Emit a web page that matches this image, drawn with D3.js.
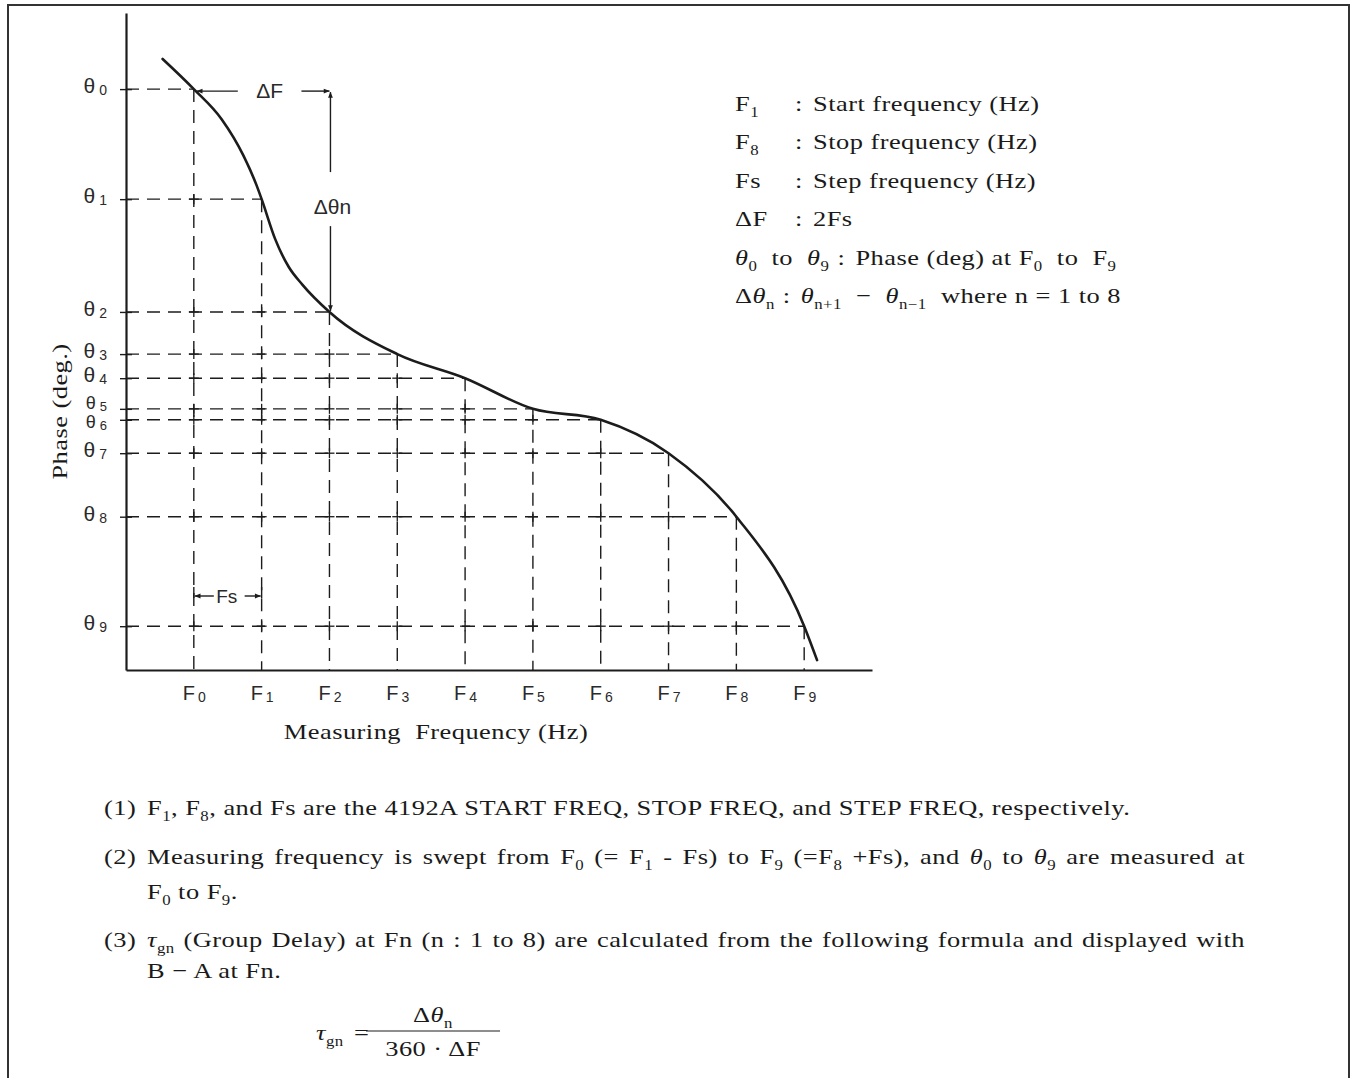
<!DOCTYPE html>
<html>
<head>
<meta charset="utf-8">
<script src="https://cdn.jsdelivr.net/npm/d3@7"></script>
<style>
  html, body { margin: 0; padding: 0; background: #fff; }
  svg { display: block; }
  .serif { font-family: "Liberation Serif", "DejaVu Serif", serif; fill: #1a1a1a; letter-spacing: 0.4px; }
  .plot { font-family: "Liberation Sans", "DejaVu Sans", sans-serif; fill: #2a2a2a; }
</style>
</head>
<body>
<svg id="chart" width="1354" height="1078"></svg>
<script>
// ---------------- DATA ----------------
const freqSteps   = [0, 1, 2, 3, 4, 5, 6, 7, 8, 9];          // F0 .. F9 (step index)
const freqSubs    = ["0","1","2","3","4","5","6","7","8","9"]; // tick label subscripts
const phaseAtF    = [-13.9, -34.0, -54.6, -62.3, -66.7, -72.3, -74.3, -80.4, -92.0, -112.0]; // θ0..θ9 (deg, schematic)
const curveStart  = [-0.46, -8.4];   // curve begins before F0
const curveEnd    = [9.19, -118.2];  // curve ends after F9
// extra points read off the drawn curve between F0 and F2
const curveMidF   = [0.41, 0.73, 0.92, 1.2, 1.4, 1.6];
const curveMidP   = [-19.4, -26.0, -31.3, -41.3, -46.4, -49.6];
const freqDomain  = [-1, 10];
const phaseDomain = [0, -120];

const yTitle = "Phase (deg.)";
const xTitle = "Measuring  Frequency (Hz)";

// legend rows: [segments of key, segments of value]; segment = [text, style]
const legendRows = [
  [[["F"],["1","sub"]], [["Start frequency (Hz)"]]],
  [[["F"],["8","sub"]], [["Stop frequency (Hz)"]]],
  [[["Fs"]], [["Step frequency (Hz)"]]],
  [[["ΔF"]], [["2Fs"]]],
  [[["θ","it"],["0","sub"],["  to  "],["θ","it"],["9","sub"]], [["Phase (deg) at F"],["0","sub"],["  to  F"],["9","sub"]]],
  [[["Δ"],["θ","it"],["n","sub"]], [["θ","it"],["n+1","sub"],["  −  "],["θ","it"],["n−1","sub"],["  where n = 1 to 8"]]]
];

const notes = [
  ["(1)", [
    [["F"],["1","sub"],[", F"],["8","sub"],[", and Fs are the 4192A START FREQ, STOP FREQ, and STEP FREQ, respectively."]]
  ]],
  ["(2)", [
    [["Measuring frequency is swept from F"],["0","sub"],[" (= F"],["1","sub"],[" - Fs) to F"],["9","sub"],[" (=F"],["8","sub"],[" +Fs), and "],["θ","it"],["0","sub"],[" to "],["θ","it"],["9","sub"],[" are measured at"]],
    [["F"],["0","sub"],[" to F"],["9","sub"],["."]]
  ]],
  ["(3)", [
    [["τ","it"],["gn","sub"],[" (Group Delay) at Fn (n : 1 to 8) are calculated from the following formula and displayed with"]],
    [["B − A at Fn."]]
  ]]
];

const formulaLeft = [["τ","it"],["gn","sub"]];
const formulaNum  = [["Δ"],["θ","it"],["n","sub"]];
const formulaDen  = [["360 · ΔF"]];

// ---------------- LAYOUT ----------------
const svg = d3.select("#chart");
const ink = "#1c1c1c";
const FS = 22, SUB = 14, SX = 1.2;   // serif text size and horizontal stretch

const x = d3.scaleLinear().domain(freqDomain).range([126, 872]);
const y = d3.scaleLinear().domain(phaseDomain).range([13, 670]);

// frame
svg.append("rect").attr("x", 8).attr("y", 5).attr("width", 1341).attr("height", 1090)
  .attr("fill", "none").attr("stroke", "#333").attr("stroke-width", 2);

// arrow marker
const defs = svg.append("defs");
defs.append("marker").attr("id", "arr")
  .attr("viewBox", "0 0 10 10").attr("refX", 9.5).attr("refY", 5)
  .attr("markerWidth", 9).attr("markerHeight", 6).attr("markerUnits", "userSpaceOnUse")
  .attr("orient", "auto-start-reverse")
  .append("path").attr("d", "M0,1 L10,5 L0,9 Z").attr("fill", ink);

// serif text stretched horizontally (scanned typeface is wide)
function serifText(px, py, anchor) {
  return svg.append("text").attr("class", "serif")
    .attr("transform", `translate(${px},${py}) scale(${SX},1)`)
    .attr("text-anchor", anchor || "start").style("white-space", "pre");
}
// helper to write segmented text (with subscripts / italics)
function writeSegs(textSel, segs, size, subSize) {
  let shifted = 0;
  segs.forEach(([t, st]) => {
    const ts = textSel.append("tspan").text(t);
    const isSub = st === "sub";
    const target = isSub ? Math.round(size * 0.28) : 0;
    if (target !== shifted) { ts.attr("dy", target - shifted); shifted = target; }
    ts.attr("font-size", isSub ? subSize : size);
    if (st === "it") ts.attr("font-style", "italic");
  });
  return textSel;
}

const plot = svg.append("g");

// dashed guide lines
const pts = freqSteps.map((f, i) => [f, phaseAtF[i]]);
plot.append("g").selectAll("line.h").data(pts).join("line")
  .attr("x1", x(freqDomain[0])).attr("x2", d => x(d[0]))
  .attr("y1", d => y(d[1])).attr("y2", d => y(d[1]))
  .attr("stroke", ink).attr("stroke-width", 1.4).attr("stroke-dasharray", "13,8");
plot.append("g").selectAll("line.v").data(pts).join("line")
  .attr("x1", d => x(d[0])).attr("x2", d => x(d[0]))
  .attr("y1", d => y(d[1])).attr("y2", y(phaseDomain[1]))
  .attr("stroke", ink).attr("stroke-width", 1.4).attr("stroke-dasharray", "13,8");

// small crosses where guides intersect
const crosses = [];
pts.forEach((h, n) => pts.forEach((v, m) => { if (m < n) crosses.push([v[0], h[1]]); }));
const cg = plot.append("g").attr("stroke", ink).attr("stroke-width", 1.3);
crosses.forEach(([f, p]) => {
  cg.append("line").attr("x1", x(f) - 5).attr("x2", x(f) + 5).attr("y1", y(p)).attr("y2", y(p));
  cg.append("line").attr("x1", x(f)).attr("x2", x(f)).attr("y1", y(p) - 5).attr("y2", y(p) + 5);
});

// axes
const yAxis = d3.axisLeft(y).tickValues(phaseAtF).tickSize(6).tickSizeOuter(0).tickPadding(14).tickFormat(() => "");
const gy = plot.append("g").attr("transform", `translate(${x(freqDomain[0])},0)`).call(yAxis);
gy.select(".domain").attr("stroke", ink).attr("stroke-width", 2.2);
gy.selectAll(".tick line").attr("stroke", ink).attr("stroke-width", 1.4).attr("x2", 6).attr("x1", -6);
const labelNudge = { 5: -4, 6: 4 };
gy.selectAll(".tick text").each(function(d, i) {
  const small = i === 5 || i === 6;
  const t = d3.select(this).attr("class", "plot").attr("font-family", null).attr("fill", "#2a2a2a")
    .attr("x", -19).attr("y", labelNudge[i] || 0).attr("dy", "0.36em").attr("text-anchor", "end");
  t.append("tspan").text("θ").attr("font-size", small ? 18 : 21);
  t.append("tspan").text(freqSubs[i]).attr("font-size", small ? 13 : 14).attr("dx", 4).attr("dy", 2);
});

const xAxis = d3.axisBottom(x).tickValues(freqSteps).tickSize(0).tickSizeOuter(0).tickPadding(0).tickFormat(() => "");
const gx = plot.append("g").attr("transform", `translate(0,${y(phaseDomain[1])})`).call(xAxis);
gx.select(".domain").attr("stroke", ink).attr("stroke-width", 2.2);
gx.selectAll(".tick text").each(function(d, i) {
  const t = d3.select(this).attr("class", "plot").attr("font-family", null).attr("fill", "#2a2a2a")
    .attr("y", 30).attr("dy", 0).attr("text-anchor", "middle");
  t.append("tspan").text("F").attr("font-size", 20);
  t.append("tspan").text(freqSubs[i]).attr("font-size", 14).attr("dx", 3).attr("dy", 2);
});

// curve
const curvePts = [curveStart, ...pts, ...curveMidF.map((f, i) => [f, curveMidP[i]]), curveEnd]
  .sort((a, b) => a[0] - b[0]);
plot.append("path").datum(curvePts)
  .attr("d", d3.line().x(d => x(d[0])).y(d => y(d[1])).curve(d3.curveMonotoneX))
  .attr("fill", "none").attr("stroke", ink).attr("stroke-width", 2.6).attr("stroke-linecap", "round");

// ΔF annotation (from F0 to F2 at θ0 level)
const aY = y(phaseAtF[0]) + 2;
const xF0 = x(freqSteps[0]), xF1 = x(freqSteps[1]), xF2 = x(freqSteps[2]);
const ann = plot.append("g").attr("stroke", ink).attr("stroke-width", 1.4).attr("fill", "none");
ann.append("line").attr("x1", xF0 + 44).attr("x2", xF0 + 3).attr("y1", aY).attr("y2", aY).attr("marker-end", "url(#arr)");
ann.append("line").attr("x1", xF2 - 28).attr("x2", xF2).attr("y1", aY).attr("y2", aY).attr("marker-end", "url(#arr)");
plot.append("text").attr("class", "plot").attr("x", (xF0 + xF2) / 2 + 8).attr("y", aY + 7)
  .attr("text-anchor", "middle").attr("font-size", 21).text("ΔF");

// Δθn annotation (vertical at F2 from θ0 to θ2)
const yT0 = y(phaseAtF[0]), yT2 = y(phaseAtF[2]);
ann.append("line").attr("x1", xF2 + 1).attr("x2", xF2 + 1).attr("y1", yT0 + 83).attr("y2", yT0 + 3).attr("marker-end", "url(#arr)");
ann.append("line").attr("x1", xF2 + 1).attr("x2", xF2 + 1).attr("y1", yT0 + 137).attr("y2", yT2 - 1).attr("marker-end", "url(#arr)");
plot.append("text").attr("class", "plot").attr("x", xF2 + 3).attr("y", yT0 + 125).attr("text-anchor", "middle")
  .attr("font-size", 21).text("Δθn");

// Fs annotation (between F0 and F1)
const fsY = 596;
ann.append("line").attr("x1", xF0).attr("x2", xF0).attr("y1", fsY - 9).attr("y2", fsY + 2);
ann.append("line").attr("x1", xF1).attr("x2", xF1).attr("y1", fsY - 9).attr("y2", fsY + 2);
ann.append("line").attr("x1", xF0 + 20).attr("x2", xF0 + 1).attr("y1", fsY).attr("y2", fsY).attr("marker-end", "url(#arr)");
ann.append("line").attr("x1", xF1 - 17).attr("x2", xF1 - 1).attr("y1", fsY).attr("y2", fsY).attr("marker-end", "url(#arr)");
plot.append("text").attr("class", "plot").attr("x", (xF0 + xF1) / 2 - 1).attr("y", fsY + 7)
  .attr("text-anchor", "middle").attr("font-size", 19).text("Fs");

// axis titles
svg.append("text").attr("class", "serif").attr("font-size", FS).attr("text-anchor", "middle")
  .attr("transform", `translate(67,${(y(phaseDomain[0]) + y(phaseDomain[1])) / 2 + 70}) rotate(-90) scale(${SX},1)`).text(yTitle);
serifText(436, 739, "middle").attr("font-size", FS).text(xTitle);

// legend
const legX = 735, colX = 795, rowY0 = 111, rowDy = 38.4;
legendRows.forEach(([key, val], i) => {
  const yy = rowY0 + i * rowDy;
  const k = writeSegs(serifText(legX, yy), key, FS, SUB);
  const kw = k.node().getComputedTextLength() * SX;
  const cx = i < 4 ? colX : legX + kw + 8;
  serifText(cx, yy).attr("font-size", FS).text(":");
  writeSegs(serifText(cx + 18, yy), val, FS, SUB);
});

// notes
const numX = 104, txtX = 147, rightEdge = 1245;
const noteLineY = [[815], [864, 899], [947, 978]];
notes.forEach(([num, lines], i) => {
  serifText(numX, noteLineY[i][0]).attr("font-size", FS).text(num);
  lines.forEach((segs, j) => {
    const t = writeSegs(serifText(txtX, noteLineY[i][j]), segs, FS, SUB);
    const justify = lines.length > 1 && j < lines.length - 1;
    if (justify) {
      const w = t.node().getComputedTextLength();
      const avail = (rightEdge - txtX) / SX;
      const spaces = segs.map(s => s[0]).join("").split(" ").length - 1;
      if (spaces > 0 && w < avail) t.attr("word-spacing", (avail - w) / spaces);
    }
  });
});

// formula
const fy = 1040;
writeSegs(serifText(316, fy), formulaLeft, FS, SUB);
serifText(354, fy).attr("font-size", FS).text("=");
writeSegs(serifText(433, 1022, "middle"), formulaNum, FS, SUB);
svg.append("line").attr("x1", 366).attr("x2", 500).attr("y1", 1031).attr("y2", 1031).attr("stroke", ink).attr("stroke-width", 1.2);
writeSegs(serifText(433, 1056, "middle"), formulaDen, FS, SUB);
</script>
</body>
</html>
